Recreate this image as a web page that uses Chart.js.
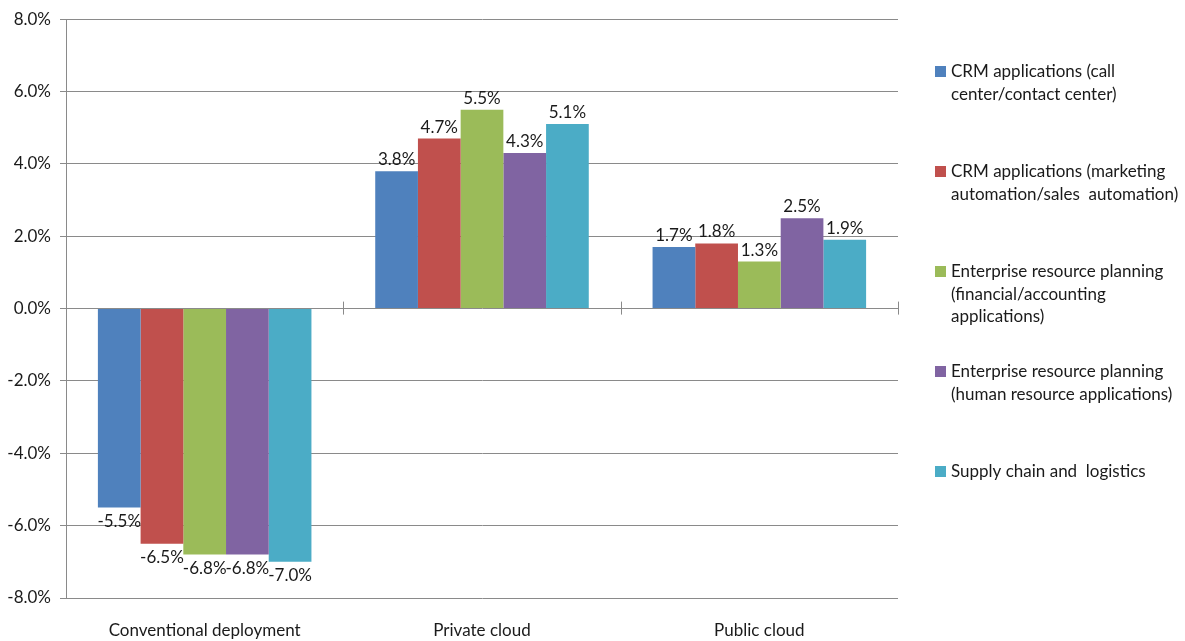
<!DOCTYPE html>
<html>
<head>
<meta charset="utf-8">
<script src="https://cdn.jsdelivr.net/npm/chart.js@4.4.1/dist/chart.umd.min.js"></script>
<style>
  html, body { margin: 0; padding: 0; background: #ffffff; }
  #wrap { position: relative; width: 1185px; height: 641px; }
</style>
</head>
<body>
<div id="wrap"><canvas id="c" width="1185" height="641"></canvas></div>
<script>
// Deployment categories along the x axis
const categories = ['Conventional deployment', 'Private cloud', 'Public cloud'];

// Application series (legend names are split into their display lines)
const seriesNames = [
  ['CRM applications (call', 'center/contact center)'],
  ['CRM applications (marketing', 'automation/sales  automation)'],
  ['Enterprise resource planning', '(financial/accounting', 'applications)'],
  ['Enterprise resource planning', '(human resource applications)'],
  ['Supply chain and  logistics']
];
const seriesColors = ['#4F81BD', '#C0504D', '#9BBB59', '#8064A2', '#4BACC6'];

// Change in share, percent
const crmCallCenter   = [-5.5, 3.8, 1.7];
const crmMarketing    = [-6.5, 4.7, 1.8];
const erpFinancial    = [-6.8, 5.5, 1.3];
const erpHumanRes     = [-6.8, 4.3, 2.5];
const supplyChain     = [-7.0, 5.1, 1.9];
const seriesValues = [crmCallCenter, crmMarketing, erpFinancial, erpHumanRes, supplyChain];

// Y axis range and step
const yMin = -8, yMax = 8, yStep = 2;

const FONT = 'Lato, "Open Sans", sans-serif';
const FSIZE = 17;
const TEXT = '#1a1a1a';
const GRID = '#8a8a8a';

// Value labels at the end of each bar
const valueLabels = {
  id: 'valueLabels',
  afterDatasetsDraw(chart) {
    const ctx = chart.ctx;
    ctx.save();
    ctx.font = FSIZE + 'px ' + FONT;
    ctx.fillStyle = TEXT;
    ctx.textAlign = 'center';
    chart.data.datasets.forEach((ds, di) => {
      const meta = chart.getDatasetMeta(di);
      meta.data.forEach((bar, i) => {
        const v = ds.data[i];
        const txt = v.toFixed(1) + '%';
        if (v >= 0) {
          ctx.textBaseline = 'bottom';
          ctx.fillText(txt, bar.x, bar.y - 3);
        } else {
          ctx.textBaseline = 'top';
          ctx.fillText(txt, bar.x, bar.y + 5);
        }
      });
    });
    ctx.restore();
  }
};

// Category separators crossing the zero line
const zeroTicks = {
  id: 'zeroTicks',
  afterDatasetsDraw(chart) {
    const xs = chart.scales.x, ys = chart.scales.y;
    const y0 = ys.getPixelForValue(0);
    const n = chart.data.labels.length;
    const w = (xs.right - xs.left) / n;
    const ctx = chart.ctx;
    ctx.save();
    ctx.strokeStyle = GRID;
    ctx.lineWidth = 1;
    for (let i = 1; i <= n; i++) {
      const x = Math.round(xs.left + i * w) + 0.5;
      ctx.beginPath();
      ctx.moveTo(x, y0 - 7);
      ctx.lineTo(x, y0 + 6);
      ctx.stroke();
    }
    ctx.restore();
  }
};

// Legend drawn at the right with wrapped names
const sideLegend = {
  id: 'sideLegend',
  afterDraw(chart) {
    const ctx = chart.ctx;
    const x0 = chart.chartArea.right + 37;
    const top = 72;
    const gap = 100;
    const lineH = 22.5;
    ctx.save();
    ctx.font = FSIZE + 'px ' + FONT;
    ctx.textAlign = 'left';
    ctx.textBaseline = 'middle';
    seriesNames.forEach((lines, i) => {
      const y = top + i * gap;
      ctx.fillStyle = seriesColors[i];
      ctx.fillRect(x0, y - 6, 11, 11);
      ctx.fillStyle = TEXT;
      lines.forEach((ln, k) => ctx.fillText(ln, x0 + 16, y + k * lineH));
    });
    ctx.restore();
  }
};

new Chart(document.getElementById('c'), {
  type: 'bar',
  data: {
    labels: categories,
    datasets: seriesValues.map((vals, i) => ({
      label: seriesNames[i].join(' '),
      data: vals,
      backgroundColor: seriesColors[i],
      borderWidth: 0,
      barPercentage: 1.0,
      categoryPercentage: 0.77
    }))
  },
  options: {
    responsive: false,
    animation: false,
    layout: { padding: { top: 16, right: 287, left: 0, bottom: 0 } },
    plugins: {
      legend: { display: false },
      tooltip: { enabled: false }
    },
    scales: {
      x: {
        grid: { display: false, drawTicks: false },
        border: { display: false },
        ticks: { color: TEXT, font: { family: FONT, size: FSIZE }, padding: 22, maxRotation: 0 },
        afterFit(s) { s.height = 43; }
      },
      y: {
        min: yMin,
        max: yMax,
        grid: { color: GRID, lineWidth: 1, tickLength: 6 },
        border: { display: true, color: GRID, width: 1 },
        ticks: {
          stepSize: yStep,
          color: TEXT,
          font: { family: FONT, size: FSIZE },
          padding: 9,
          callback: v => v.toFixed(1) + '%'
        },
        afterFit(s) { s.width = 66; }
      }
    }
  },
  plugins: [valueLabels, zeroTicks, sideLegend]
});
</script>
</body>
</html>
